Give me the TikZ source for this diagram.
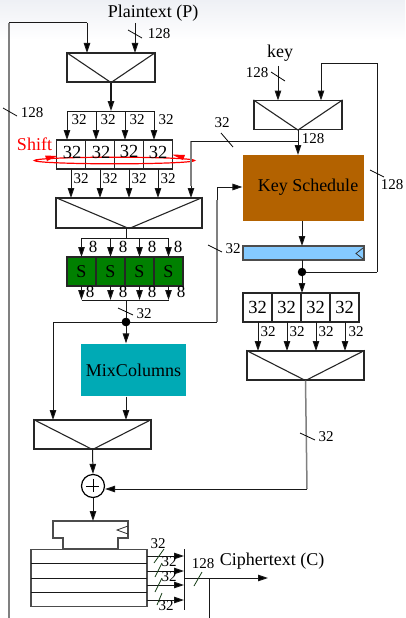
\documentclass[tikz,border=0pt]{standalone}
\usepackage{fontspec}
\setmainfont{Liberation Serif}
\usetikzlibrary{arrows.meta,calc}
\definecolor{ksc}{RGB}{179,98,0}
\definecolor{mixc}{RGB}{0,170,181}
\definecolor{sboxc}{RGB}{0,128,0}
\definecolor{bluec}{RGB}{133,202,255}
\definecolor{tickg}{RGB}{20,60,20}
\definecolor{topc}{RGB}{238,240,245}
\tikzset{
 wire/.style={line width=1pt,draw=black!90},
 gwire/.style={line width=1.5pt,draw=black!50},
 arr/.style={wire,-{Triangle[length=10pt,width=6.5pt,fill=black]}},
 box/.style={draw=black!85,line width=1.1pt,rectangle,inner sep=0pt},
 mux/.style={box,fill=white},
 cell/.style={box,fill=white,minimum width=29pt,minimum height=29pt,font=\fontsize{18.5}{19}\selectfont},
 scell/.style={cell,fill=sboxc,font=\fontsize{18}{18}\selectfont},
 lab/.style={inner sep=0pt,font=\fontsize{15}{15}\selectfont},
 eightl/.style={inner sep=0pt,font=\fontsize{17}{17}\selectfont},
 big/.style={inner sep=0pt,font=\fontsize{18}{18}\selectfont},
 ticks/.style={line width=.8pt,draw=black},
 dot/.style={circle,fill=black,inner sep=0pt,minimum size=8.5pt},
}
\newcommand{\muxbox}[5]{\node[mux,minimum width=#4pt,minimum height=#5pt] (#1) at (#2,#3) {};
 \draw[box] (#1.north west) -- (#1.south) -- (#1.north east);}
\begin{document}
\begin{tikzpicture}[x=1pt,y=-1pt]
\useasboundingbox (0,0) rectangle (405,618);
\shade[top color=topc,bottom color=white] (0,0) rectangle (405,40);
% ---- plaintext section
\node[big] (pt) at (153,13) {Plaintext (P)};
\muxbox{mA}{111}{67.5}{88}{29}
\coordinate (ptin) at (135,23);
\coordinate (loopB) at (9,618);
\coordinate (loopT) at (9,23);
\coordinate (loopE) at (87,23);
\draw[gwire,line width=1.2pt] (loopB) -- (loopT);
\draw[wire] (loopT) -- (loopE);
\draw[arr] (loopE) -- (87,53);
\draw[arr] (ptin) -- (135,53);
\draw[ticks] (128,30) -- (142,38);
\node[lab] (l128a) at (159,34) {128};
\draw[ticks] (3,108) -- (17,116);
\node[lab] (l128b) at (32,113) {128};
% bus to reg 1
\coordinate (b1) at (67,111);
\coordinate (b2) at (96,111);
\coordinate (b3) at (125,111);
\coordinate (b4) at (154,111);
\draw[wire] (b1) -- (b4);
\draw[arr,line width=1.3pt] (mA.south) -- (mA.south |- b1);
\node[cell] (r1) at (71,154.5) {};
\node[cell] (r2) at (100,154.5) {};
\node[cell] (r3) at (129,154.5) {};
\node[cell] (r4) at (158,154.5) {};
\foreach \b/\xx in {b1/67,b2/96,b3/125,b4/154}{\draw[arr] (\b) -- (\xx,140);}
\foreach \x in {79,108,137,166}{\node[lab] at (\x,120) {32};}
% Shift
\node[big,text=red] (shift) at (34.5,144) {Shift};
\draw[red,line width=1.2pt] (114.5,160.5) ellipse [x radius=80,y radius=3.3];
\foreach \x/\y in {72/152,101/152,129/151,158/152}{\node[inner sep=0pt,font=\fontsize{18.5}{19}\selectfont] at (\x,\y) {32};}
\fill[red] (57,156) -- (45,155.5) -- (47,161) -- cycle;
\fill[red] (172,154.5) -- (185,155) -- (183,160) -- cycle;
% mux 2
\muxbox{mB}{129}{213}{146}{30}
\foreach \x/\l in {71/81,100/110,129/139,158/168}{\draw[arr] (\x,169) -- (\x,198);\node[lab] at (\l,179) {32};}
\coordinate (fb) at (191,141);
\coordinate (fbE) at (298,141);
\coordinate (fbM) at (191,186);
\draw[gwire] (fb) -- (fbM);
\draw[arr] (fbM) -- (191,198);
\draw[wire] (fb) -- (fbE);
\draw[ticks] (221,133) -- (233,147);
\node[lab] (l32k) at (222,123) {32};
% S boxes
\node[scell] (s1) at (81.5,271.5) {S};
\node[scell] (s2) at (110.5,271.5) {S};
\node[scell] (s3) at (139.5,271.5) {S};
\node[scell] (s4) at (168.5,271.5) {S};
\coordinate (s) at (126,238);
\coordinate (u) at (126,300);
\draw[wire] (126,228) -- (s);
\draw[wire] (81.5,238) -- (168.5,238);
\draw[wire] (81.5,300) -- (168.5,300);
\foreach \x/\l/\m in {81.5/93/90,110.5/123/123,139.5/152/152,168.5/178/181}{
 \draw[arr] (\x,238) -- (\x,257);
 \node[eightl] at (\l,247) {8};
 \draw[arr] (\x,286) -- (\x,300);
 \node[eightl] at (\m,292) {8};}
% junction
\node[dot] (j1) at (126,322) {};
\draw[wire] (u) -- (j1);
\draw[ticks] (118,308) -- (133,315);
\node[lab] (l32m) at (144,314) {32};
% MixColumns
\node[box,draw=none,fill=mixc,minimum width=105pt,minimum height=52pt,font=\fontsize{18}{18}\selectfont] (mix) at (133.5,370) {MixColumns};
\draw[arr] (j1) -- (mix.north -| j1);
\muxbox{mC}{92.5}{434.5}{117}{29}
\draw[wire] (j1.center) -- (53,322);
\draw[arr] (53,322) -- (53,420);
\draw[arr] (mix.south -| j1) -- (126,420);
% feed to key schedule
\node[box,draw=none,fill=ksc,minimum width=121pt,minimum height=66pt] (ks) at (303.5,188) {};
\node[big] (kst) at (308,187) {Key Schedule};
\draw[wire] (j1.center) -- (217,322);
\draw[gwire] (217,322) -- (217,200);
\draw[wire] (217,200) -- (217,187);
\draw[arr] (217,187) -- (ks.west |- 217,187);
\fill (j1) circle (4.2);
\draw[ticks] (208,245) -- (222,252);
\node[lab] (l32n) at (233,249) {32};
% key mux
\node[big] (key) at (280,53) {key};
\muxbox{mD}{298}{115}{88}{29}
\coordinate (kin) at (278,66);
\draw[arr] (kin) -- (278,100.5);
\draw[ticks] (271,72) -- (285,81);
\node[lab] (l128k) at (257,73) {128};
\coordinate (r1a) at (321,64);
\coordinate (r1b) at (377,64);
\coordinate (r1c) at (377,272);
\draw[arr] (r1a) -- (321,100.5);
\draw[wire] (r1a) -- (r1b) -- (r1c);
\draw[ticks] (370,170) -- (384,177);
\node[lab] (l128r) at (392,185) {128};
\draw[arr] (mD.south) -- (298,155);
\node[lab] (l128s) at (313,139) {128};
% key register
\node[box,draw=black!70,fill=bluec,minimum width=121pt,minimum height=14pt] (kr) at (303.5,253) {};
\draw[line width=.8pt,black!80] (363,248) -- (356,253.5) -- (363,259);
\draw[arr] (302,221) -- (302,246);
\node[dot] (j2) at (302,272) {};
\draw[wire] (302,260) -- (j2);
\draw[wire] (r1c) -- (j2);
\node[cell] (q1) at (257.5,307.5) {32};
\node[cell] (q2) at (286.5,307.5) {32};
\node[cell] (q3) at (315.5,307.5) {32};
\node[cell] (q4) at (344.5,307.5) {32};
\draw[arr] (j2) -- (302,293);
\muxbox{mE}{305.5}{365.5}{117}{29}
\foreach \x/\l in {258/268,287/297,316/326,345/356}{\draw[arr] (\x,322) -- (\x,351);\node[lab] at (\l,332) {32};}
\coordinate (e1) at (307,489);
\draw[gwire] (mE.south) -- (307,489);
\draw[ticks] (300,433) -- (315,440);
\node[lab] (l32e) at (326,437) {32};
% xor
\node[circle,draw=black,line width=1.2pt,fill=white,minimum size=23pt,inner sep=0pt] (xr) at (93,486) {};
\draw[line width=.8pt] (xr.north) ++(0,5) -- ++(0,13);
\draw[line width=.8pt] (xr.west) ++(5,0) -- ++(13,0);
\draw[arr] (mC.south) -- (xr.north);
\draw[arr] (e1) -- (xr.east |- e1);
% register bottom
\draw[box,draw=black!70] (53,521) -- (128,521) -- (128,538) -- (118,538) -- (118,549) -- (63,549) -- (63,538) -- (53,538) -- cycle;
\draw[line width=.8pt,black!80] (128,526) -- (117,530) -- (128,534);
\coordinate (rtop) at (93,521);
\draw[arr] (xr.south) -- (rtop);
\node[box,draw=black!70,minimum width=116pt,minimum height=57.5pt,fill=white] (rg) at (89,578) {};
\foreach \y in {563.5,578,592.5}{\draw[wire] (31,\y) -- (147,\y);}
\coordinate (bt) at (184,549);
\coordinate (bb) at (184,610);
\draw[wire] (bt) -- (bb);
\foreach \y in {556,571,585,600}{\draw[arr] (147,\y) -- (184,\y);}
\draw[ticks,tickg] (154,563) -- (164,549);
\draw[ticks,tickg] (155,577) -- (162,563);
\draw[ticks,tickg] (155,592) -- (162,578);
\draw[ticks,tickg] (157,605) -- (162,593);
\node[lab] at (158,544) {32};
\node[lab] at (169,562) {32};
\node[lab] at (169,577) {32};
\node[lab] at (166,606) {32};
\coordinate (o) at (184,578);
\coordinate (oe) at (268,578);
\draw[arr] (o) -- (oe);
\draw[wire] (209,578) -- (209,618);
\draw[ticks,tickg] (194,586) -- (202,572);
\node[lab] at (203,564) {128};
\node[big] (ct) at (272,561) {Ciphertext (C)};
\end{tikzpicture}
\end{document}
